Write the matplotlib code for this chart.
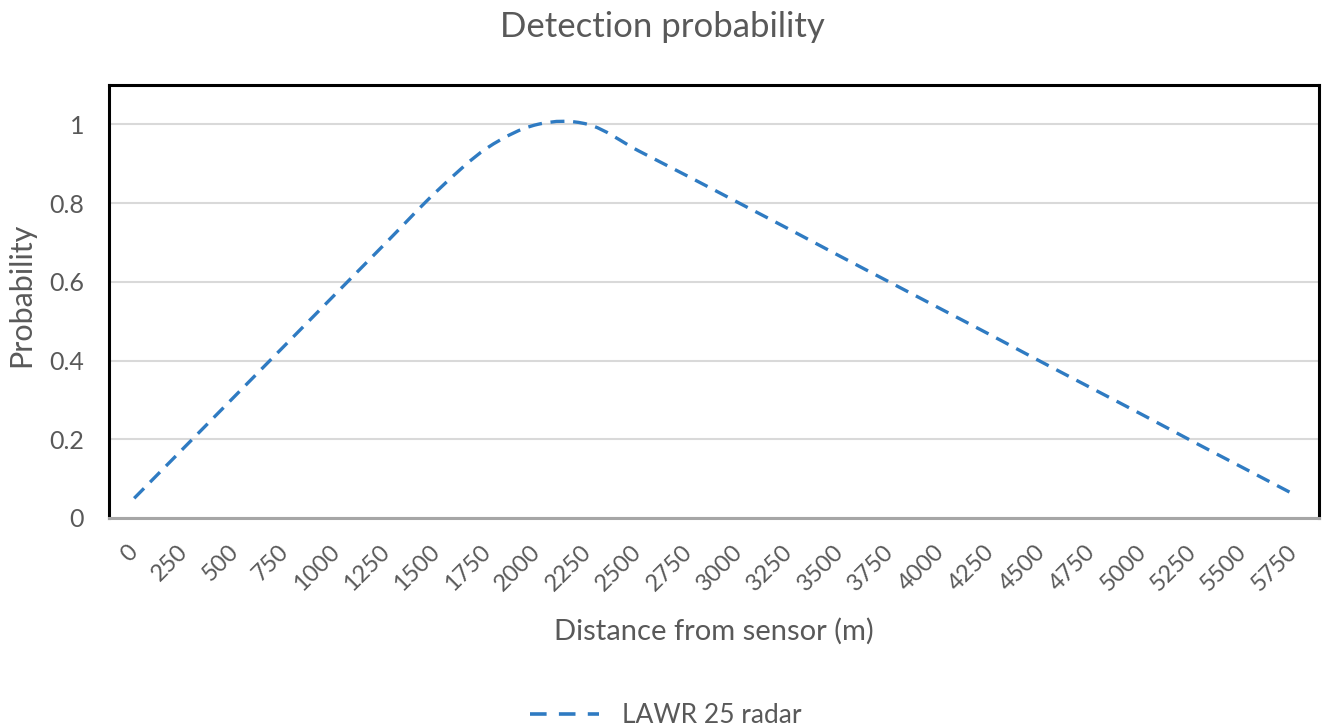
import matplotlib.pyplot as plt
from matplotlib.path import Path
from matplotlib.patches import PathPatch
from matplotlib.lines import Line2D

distance = list(range(0, 6000, 250))
probability = [0.05, 0.18, 0.31, 0.44, 0.57, 0.70, 0.83, 0.94,
               1.00, 1.00, 0.933, 0.867, 0.80, 0.733, 0.665, 0.598,
               0.531, 0.464, 0.396, 0.329, 0.262, 0.194, 0.127, 0.06]
series_name = "LAWR 25 radar"

blue = "#2F7BC2"
grey_text = "#595959"
dash = (0, (4.2, 2.6))
plt.rcParams["font.family"] = ["Lato", "DejaVu Sans"]

fig = plt.figure(figsize=(13.24, 7.28), dpi=100)
ax = fig.add_axes([0.0823, 0.2885, 0.914, 0.5947])

# smoothed line like the spreadsheet's "smoothed line" option (bezier through the points)
xs = list(range(len(probability)))
verts = [(xs[0], probability[0])]
codes = [Path.MOVETO]
n = len(xs)
for i in range(n - 1):
    p0 = (xs[max(i - 1, 0)], probability[max(i - 1, 0)])
    p1 = (xs[i], probability[i])
    p2 = (xs[i + 1], probability[i + 1])
    p3 = (xs[min(i + 2, n - 1)], probability[min(i + 2, n - 1)])
    c1 = (p1[0] + (p2[0] - p0[0]) / 6, p1[1] + (p2[1] - p0[1]) / 6)
    c2 = (p2[0] - (p3[0] - p1[0]) / 6, p2[1] - (p3[1] - p1[1]) / 6)
    verts += [c1, c2, p2]
    codes += [Path.CURVE4] * 3
patch = PathPatch(Path(verts, codes), facecolor="none", edgecolor=blue,
                  linewidth=2.4, linestyle=dash, capstyle="butt")
ax.add_patch(patch)

ax.set_xlim(-0.5, len(distance) - 0.5)
ax.set_ylim(0, 1.1)
ax.set_xticks(xs)
ax.set_xticklabels([str(d) for d in distance], rotation=45, ha="right",
                   va="center", rotation_mode="anchor", fontsize=17, color=grey_text)
ax.set_yticks([0, 0.2, 0.4, 0.6, 0.8, 1])
ax.set_yticklabels(["0", "0.2", "0.4", "0.6", "0.8", "1"], fontsize=18, color=grey_text)
ax.tick_params(length=0)
ax.tick_params(axis="y", pad=18)
ax.tick_params(axis="x", pad=22)
ax.grid(axis="y", color="#D9D9D9", linewidth=1.5)
ax.set_axisbelow(True)

for side in ["left", "top", "right"]:
    ax.spines[side].set_color("black")
    ax.spines[side].set_linewidth(2.2)
ax.spines["bottom"].set_color("#A6A6A6")
ax.spines["bottom"].set_linewidth(2.2)

fig.text(0.5, 0.949, "Detection probability", ha="center", va="baseline",
         fontsize=25, color=grey_text)
# axis title centred on the plot area
fig.text(0.539, 0.121, "Distance from sensor (m)", ha="center", va="baseline",
         fontsize=21, color=grey_text)
fig.text(0.016, 0.595, "Probability", ha="center", va="center", rotation=90,
         fontsize=22, color=grey_text)

handle = Line2D([], [], color=blue, linewidth=2.6, linestyle=(0, (4.6, 3.4)))
fig.legend([handle], [series_name], loc="center", bbox_to_anchor=(0.503, 0.017),
           frameon=False, fontsize=19, labelcolor=grey_text,
           handlelength=2.6, handletextpad=0.9)

fig.savefig("out.png", dpi=100)
